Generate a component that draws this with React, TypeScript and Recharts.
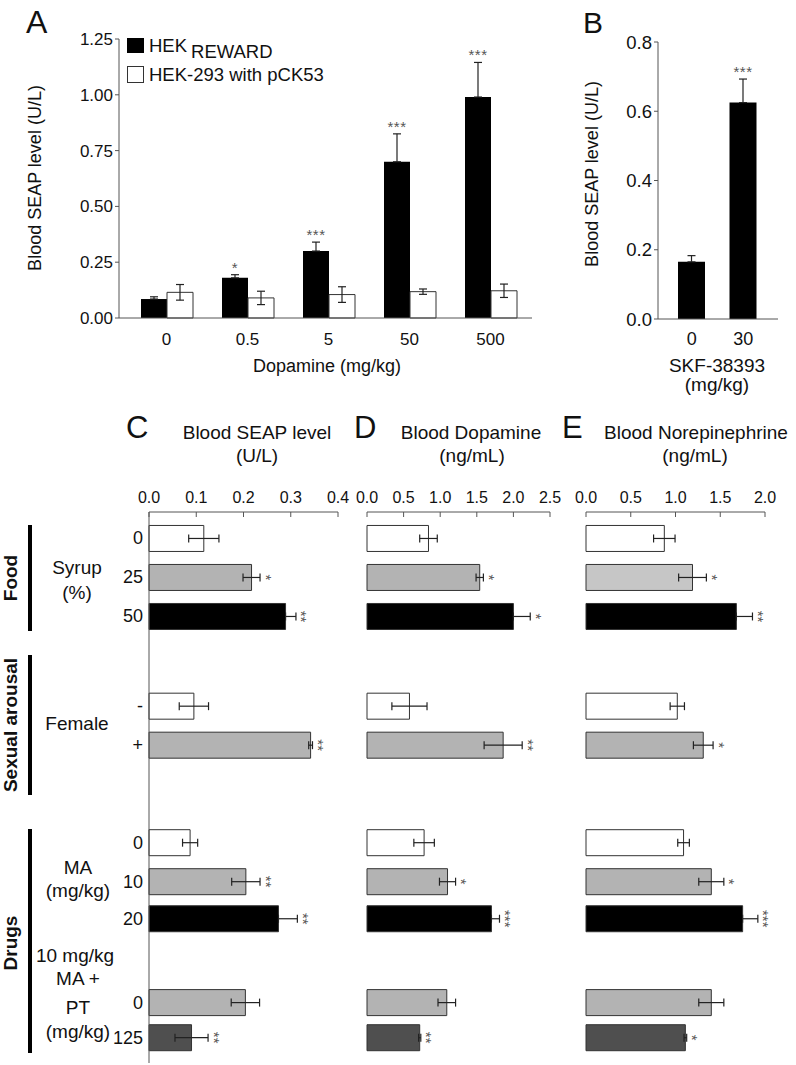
import React from 'react';
import { BarChart, Bar, XAxis, YAxis, ErrorBar, Cell, LabelList, Legend } from 'recharts';

const FONT = '"Liberation Sans", Arial, sans-serif';
const AXIS = '#555';
const ERR = '#222';
const STAR = '#555';

// panel A
const doseLabels = ['0', '0.5', '5', '50', '500'];
const rewardMean = [0.085, 0.18, 0.3, 0.7, 0.99];
const rewardErr = [0.01, 0.014, 0.04, 0.125, 0.155];
const rewardStars = ['', '*', '***', '***', '***'];
const controlMean = [0.115, 0.09, 0.105, 0.118, 0.122];
const controlErr = [0.035, 0.03, 0.035, 0.012, 0.03];
const aTicks = [0, 0.25, 0.5, 0.75, 1, 1.25];

// panel B
const skfLabels = ['0', '30'];
const skfMean = [0.165, 0.625];
const skfErr = [0.018, 0.068];
const skfStars = ['', '***'];
const bTicks = [0, 0.2, 0.4, 0.6, 0.8];

// panels C-E, rows top to bottom
const rowLabels = ['0', '25', '50', '-', '+', '0', '10', '20', '0', '125'];
const rowSlot = [0, 1, 2, 4.3, 5.3, 7.8, 8.8, 9.75, 11.9, 12.8];
const rowShade = ['white', 'gray', 'black', 'white', 'gray', 'white', 'gray', 'black', 'gray', 'dark'];
const neShade = ['white', 'light', 'black', 'white', 'gray', 'white', 'gray', 'black', 'gray', 'dark'];

const seapMean = [0.116, 0.217, 0.289, 0.095, 0.342, 0.087, 0.205, 0.274, 0.204, 0.09];
const seapErr = [0.032, 0.018, 0.022, 0.031, 0.004, 0.016, 0.03, 0.04, 0.03, 0.035];
const seapStars = ['', '*', '**', '', '**', '', '**', '**', '', '**'];
const seapTicks = [0, 0.1, 0.2, 0.3, 0.4];

const dopMean = [0.84, 1.54, 2.0, 0.58, 1.86, 0.78, 1.1, 1.7, 1.09, 0.72];
const dopErr = [0.12, 0.05, 0.23, 0.24, 0.26, 0.14, 0.11, 0.11, 0.12, 0.015];
const dopStars = ['', '*', '*', '', '**', '', '*', '***', '', '**'];
const dopTicks = [0, 0.5, 1, 1.5, 2, 2.5];

const neMean = [0.875, 1.19, 1.68, 1.02, 1.31, 1.09, 1.4, 1.75, 1.4, 1.11];
const neErr = [0.12, 0.155, 0.18, 0.08, 0.11, 0.065, 0.14, 0.17, 0.14, 0.015];
const neStars = ['', '*', '**', '', '*', '', '*', '***', '', '*'];
const neTicks = [0, 0.5, 1, 1.5, 2];

const shadeColor: Record<string, string> = {
  white: '#ffffff',
  gray: '#b3b3b3',
  light: '#c6c6c6',
  black: '#000000',
  dark: '#4f4f4f',
};

const doseData = doseLabels.map((d, i) => ({
  dose: d,
  reward: rewardMean[i],
  rewardE: [0, rewardErr[i]],
  control: controlMean[i],
  controlE: controlErr[i],
}));

const skfData = skfLabels.map((d, i) => ({ dose: d, v: skfMean[i], e: [0, skfErr[i]] }));

const rowData = (mean: number[], err: number[]) =>
  rowLabels.map((l, i) => ({
    slot: rowSlot[i],
    v: mean[i],
    e: rowShade[i] === 'black' ? [0, err[i]] : err[i],
  }));

const topStars = (stars: string[], errs: number[]) => (p: any) => {
  const i = p.index;
  if (!stars[i]) return null;
  const v = Number(p.value);
  const errPx = v ? (errs[i] * Number(p.height)) / v : 0;
  return (
    <text x={Number(p.x) + Number(p.width) / 2} y={Number(p.y) - errPx - 2} textAnchor="middle"
      fontSize={15} fill={STAR} fontFamily={FONT} letterSpacing={0.5}>
      {stars[i]}
    </text>
  );
};

// stars turned on their side, right of the error bar
const sideStars = (stars: string[], errs: number[]) => (p: any) => {
  const i = p.index;
  if (!stars[i]) return null;
  const v = Number(p.value);
  const errPx = v ? (errs[i] * Number(p.width)) / v : 0;
  const cx = Number(p.x) + Number(p.width) + errPx + 9;
  const cy = Number(p.y) + Number(p.height) / 2;
  return (
    <g opacity={0.99}>
      <text transform={`translate(${cx},${cy}) rotate(90)`} y={8.5} textAnchor="middle"
        fontSize={15} fill={STAR} fontFamily={FONT}>
        {stars[i]}
      </text>
    </g>
  );
};

const AXIS_Y = 42;
const topTick = (fmt: (v: number) => string) => (p: any) => (
  <g>
    <line x1={p.x} x2={p.x} y1={AXIS_Y} y2={AXIS_Y + 5} stroke={AXIS} />
    <text x={p.x} y={AXIS_Y - 9} textAnchor="middle" fontSize={16} fill="#111" fontFamily={FONT}>
      {fmt(p.payload.value)}
    </text>
  </g>
);

const legendContent = () => (
  <div style={{ fontFamily: FONT, fontSize: 18.5, color: '#111', lineHeight: '29px' }}>
    <div style={{ display: 'flex', alignItems: 'center' }}>
      <span style={{ width: 17, height: 15, background: '#000', display: 'inline-block', marginRight: 5 }} />
      <span>HEK</span>
      <span style={{ position: 'relative', top: 6, marginLeft: 4 }}>REWARD</span>
    </div>
    <div style={{ display: 'flex', alignItems: 'center' }}>
      <span style={{ width: 15, height: 15, border: '1px solid #333', background: '#fff', display: 'inline-block', marginRight: 5 }} />
      <span>HEK-293 with pCK53</span>
    </div>
  </div>
);

const HBarPanel: React.FC<{
  left: number; width: number; marginLeft: number; marginRight: number; axisWidth: number;
  mean: number[]; err: number[]; stars: string[]; ticks: number[]; shades: string[]; showRows?: boolean;
}> = ({ left, width, marginLeft, marginRight, axisWidth, mean, err, stars, ticks, shades, showRows }) => (
  <div style={{ position: 'absolute', left, top: 470 }}>
    <BarChart width={width} height={595} layout="vertical" data={rowData(mean, err)}
      margin={{ top: 12, right: marginRight, bottom: 2, left: marginLeft }}>
      <XAxis type="number" orientation="top" domain={[0, ticks[ticks.length - 1]]} ticks={ticks} interval={0}
        height={30} axisLine={{ stroke: AXIS }} tickLine={false} tick={topTick((v) => v.toFixed(1))} />
      <YAxis type="number" dataKey="slot" domain={[-0.667, 13.46]} ticks={rowSlot} interval={0}
        width={axisWidth} tickLine={false} tickSize={4} axisLine={{ stroke: AXIS }}
        tick={showRows ? { fontSize: 18, fill: '#111', fontFamily: FONT } : false}
        tickFormatter={(v: number) => rowLabels[rowSlot.indexOf(v)] ?? ''} />
      <Bar dataKey="v" barSize={26} stroke="#333" strokeWidth={1} isAnimationActive={false}>
        {rowLabels.map((l, i) => (
          <Cell key={i} fill={shadeColor[shades[i]]} />
        ))}
        <ErrorBar dataKey="e" direction="x" width={4} stroke={ERR} strokeWidth={1.2} />
        <LabelList dataKey="v" content={sideStars(stars, err)} />
      </Bar>
    </BarChart>
  </div>
);

export default function App() {
  const txt = { fontFamily: FONT, fill: '#111' } as const;
  return (
    <div style={{ position: 'absolute', left: 0, top: 0, width: 796, height: 1065, background: '#fff', overflow: 'hidden' }}>
      {/* A */}
      <div style={{ position: 'absolute', left: 0, top: 0 }}>
        <BarChart width={560} height={380} data={doseData} barGap={0}
          margin={{ top: 39, right: 28, bottom: 32, left: 59 }}>
          <XAxis dataKey="dose" height={30} axisLine={{ stroke: AXIS }} tickLine={false} tickMargin={9}
            padding={{ left: 7, right: 1 }} tick={{ fontSize: 17, fill: '#111', fontFamily: FONT }} />
          <YAxis width={60} domain={[0, 1.25]} ticks={aTicks} interval={0} tickSize={4}
            axisLine={{ stroke: AXIS }} tickLine={{ stroke: AXIS }} tickFormatter={(v: number) => v.toFixed(2)}
            tick={{ fontSize: 17, fill: '#111', fontFamily: FONT }} />
          <Legend layout="horizontal" verticalAlign="middle" align="center" content={legendContent}
            wrapperStyle={{ left: 127, top: 31, width: 260 }} />
          <Bar dataKey="reward" fill="#000" barSize={26} isAnimationActive={false}>
            <ErrorBar dataKey="rewardE" width={4} stroke={ERR} strokeWidth={1.2} />
            <LabelList dataKey="reward" content={topStars(rewardStars, rewardErr)} />
          </Bar>
          <Bar dataKey="control" fill="#fff" stroke="#333" strokeWidth={1} barSize={26} isAnimationActive={false}>
            <ErrorBar dataKey="controlE" width={4} stroke={ERR} strokeWidth={1.2} />
          </Bar>
        </BarChart>
      </div>

      {/* B */}
      <div style={{ position: 'absolute', left: 560, top: 0 }}>
        <BarChart width={236} height={400} data={skfData}
          margin={{ top: 42, right: 18, bottom: 51, left: 58 }}>
          <XAxis dataKey="dose" height={30} axisLine={{ stroke: AXIS }} tickLine={false} tickMargin={7}
            padding={{ left: 8, right: 9 }} tick={{ fontSize: 18, fill: '#111', fontFamily: FONT }} />
          <YAxis width={40} domain={[0, 0.8]} ticks={bTicks} interval={0} tickSize={4}
            axisLine={{ stroke: AXIS }} tickLine={{ stroke: AXIS }} tickFormatter={(v: number) => v.toFixed(1)}
            tick={{ fontSize: 18.5, fill: '#111', fontFamily: FONT }} />
          <Bar dataKey="v" fill="#000" barSize={27} isAnimationActive={false}>
            <ErrorBar dataKey="e" width={4} stroke={ERR} strokeWidth={1.2} />
            <LabelList dataKey="v" content={topStars(skfStars, skfErr)} />
          </Bar>
        </BarChart>
      </div>

      <HBarPanel left={100} width={260} marginLeft={0} marginRight={22} axisWidth={49} mean={seapMean} err={seapErr}
        stars={seapStars} ticks={seapTicks} shades={rowShade} showRows />
      <HBarPanel left={340} width={240} marginLeft={27} marginRight={30} axisWidth={0} mean={dopMean} err={dopErr}
        stars={dopStars} ticks={dopTicks} shades={rowShade} />
      <HBarPanel left={560} width={236} marginLeft={26} marginRight={31} axisWidth={0} mean={neMean} err={neErr}
        stars={neStars} ticks={neTicks} shades={neShade} />

      <svg width={796} height={1065} style={{ position: 'absolute', left: 0, top: 0, pointerEvents: 'none' }}>
        {/* panel letters */}
        <text x={26} y={33} fontSize={32} {...txt}>A</text>
        <text x={583} y={33} fontSize={30} {...txt}>B</text>
        <text x={126} y={438} fontSize={31} {...txt}>C</text>
        <text x={354} y={438} fontSize={31} {...txt}>D</text>
        <text x={562} y={438} fontSize={31} {...txt}>E</text>

        {/* axis titles A/B */}
        <text transform="translate(41,178) rotate(-90)" textAnchor="middle" fontSize={18} {...txt}>Blood SEAP level (U/L)</text>
        <text x={327} y={372} textAnchor="middle" fontSize={18} {...txt}>Dopamine (mg/kg)</text>
        <text transform="translate(598,174) rotate(-90)" textAnchor="middle" fontSize={18} {...txt}>Blood SEAP level (U/L)</text>
        <text x={717} y={372} textAnchor="middle" fontSize={19} {...txt}>SKF-38393</text>
        <text x={717} y={391} textAnchor="middle" fontSize={19} {...txt}>(mg/kg)</text>

        {/* headers C-E */}
        <text x={257} y={439} textAnchor="middle" fontSize={19} {...txt}>Blood SEAP level</text>
        <text x={257} y={462} textAnchor="middle" fontSize={19} {...txt}>(U/L)</text>
        <text x={471} y={439} textAnchor="middle" fontSize={19} {...txt}>Blood Dopamine</text>
        <text x={472} y={462} textAnchor="middle" fontSize={19} {...txt}>(ng/mL)</text>
        <text x={696} y={439} textAnchor="middle" fontSize={19} {...txt}>Blood Norepinephrine</text>
        <text x={695} y={462} textAnchor="middle" fontSize={19} {...txt}>(ng/mL)</text>

        {/* group labels */}
        <rect x={28} y={525} width={4} height={106} fill="#000" />
        <rect x={28} y={655} width={4} height={140} fill="#000" />
        <rect x={28} y={829} width={4} height={224} fill="#000" />
        <text transform="translate(17,578) rotate(-90)" textAnchor="middle" fontSize={19} fontWeight="bold" {...txt}>Food</text>
        <text transform="translate(17,725) rotate(-90)" textAnchor="middle" fontSize={19} fontWeight="bold" {...txt}>Sexual arousal</text>
        <text transform="translate(17,943) rotate(-90)" textAnchor="middle" fontSize={19} fontWeight="bold" {...txt}>Drugs</text>

        <text x={77} y={574} textAnchor="middle" fontSize={19} {...txt}>Syrup</text>
        <text x={77} y={599} textAnchor="middle" fontSize={19} {...txt}>(%)</text>
        <text x={77} y={730} textAnchor="middle" fontSize={19} {...txt}>Female</text>
        <text x={78} y={874} textAnchor="middle" fontSize={19} {...txt}>MA</text>
        <text x={78} y={897} textAnchor="middle" fontSize={19} {...txt}>(mg/kg)</text>
        <text x={75} y={962} textAnchor="middle" fontSize={19} {...txt}>10 mg/kg</text>
        <text x={78} y={985} textAnchor="middle" fontSize={19} {...txt}>MA +</text>
        <text x={78} y={1014} textAnchor="middle" fontSize={19} {...txt}>PT</text>
        <text x={78} y={1038} textAnchor="middle" fontSize={19} {...txt}>(mg/kg)</text>
      </svg>
    </div>
  );
}
